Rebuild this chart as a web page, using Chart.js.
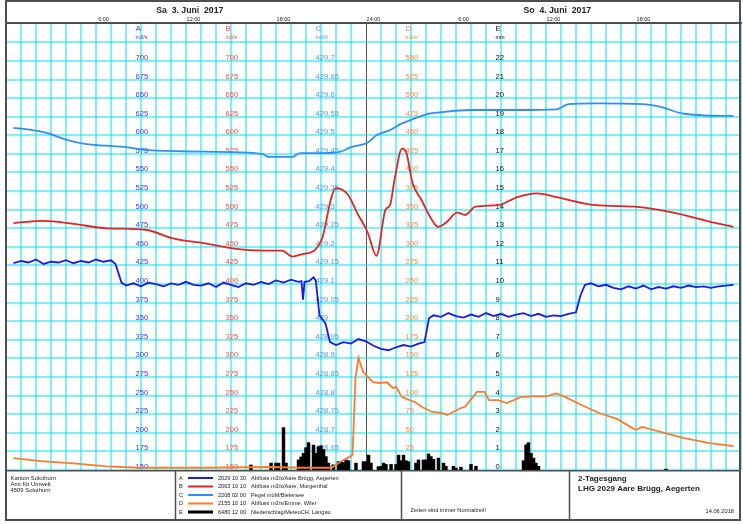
<!DOCTYPE html>
<html>
<head>
<meta charset="utf-8">
<script src="https://cdn.jsdelivr.net/npm/chart.js@4.4.1/dist/chart.umd.min.js"></script>
<style>
  html, body { margin: 0; padding: 0; background: #fff; }
  #wrap { width: 743px; height: 524px; }
</style>
</head>
<body>
<div id="wrap"><canvas id="chart" width="743" height="524"></canvas></div>
<script>
// --- Data (hours since Sa 3. Juni 2017 00:00) ---
const hourLabels = ['6:00', '12:00', '18:00', '24:00', '6:00', '12:00', '18:00'];
const dayLabels = ['Sa  3. Juni  2017', 'So  4. Juni  2017'];
const dayCenters = [12, 36];

const seriesLetters = ['A', 'B', 'C', 'D', 'E'];
const seriesCodes = ['2029 10 30', '2063 10 10', '2208 02 00', '2155 10 10', '6480 12 00'];
const seriesNames = [
  'Abfluss m3/s/Aare Brügg, Aegerten',
  'Abfluss m3/s/Aare, Murgenthal',
  'Pegel müM/Bielersee',
  'Abfluss m3/s/Emme, Wiler',
  'Niederschlag/MeteoCH, Langau'
];
const seriesUnits = ['m3/s', 'm3/s', 'müM', 'm3/s', 'mm'];

// A: Abfluss Aare Brügg (m3/s)
const aHours = [0, 0.5, 1, 1.5, 2, 2.5, 3, 3.5, 4, 4.5, 5, 5.5, 6, 6.5, 6.8, 7.2, 7.5, 8, 8.5, 9, 9.5, 10,
  10.5, 11, 11.5, 12, 12.5, 13, 13.5, 14, 14.5, 15, 15.5, 16, 16.5, 17, 17.5, 18, 18.5, 19, 19.2, 19.3,
  19.4, 19.7, 20, 20.15, 20.4, 20.8, 21.1, 21.5, 22, 22.5, 23, 23.5, 24, 24.5, 25, 25.5, 26, 26.5, 27,
  27.4, 27.7, 28, 28.5, 29, 29.5, 30, 30.5, 31, 31.5, 32, 32.5, 33, 33.5, 34, 34.5, 35, 35.5, 36, 36.5,
  37, 37.5, 37.8, 38.1, 38.5, 39, 39.5, 40, 40.5, 41, 41.5, 42, 42.5, 43, 43.5, 44, 44.5, 45, 45.5, 46,
  46.5, 47, 47.5, 48];
const aValues = [428, 431, 429, 433, 427, 430, 429, 432, 428, 431, 429, 433, 430, 432, 427, 402, 398, 401,
  397, 402, 400, 397, 401, 399, 403, 399, 398, 401, 396, 402, 399, 396, 401, 399, 403, 400, 405, 402, 406,
  403, 404, 379, 403, 404, 409, 405, 358, 347, 322, 318, 322, 320, 326, 323, 317, 313, 311, 315, 318, 316,
  320, 322, 354, 358, 356, 361, 357, 355, 359, 356, 361, 357, 360, 356, 359, 361, 357, 360, 356, 358, 357,
  360, 362, 385, 399, 401, 397, 399, 395, 393, 397, 394, 398, 393, 396, 394, 397, 395, 398, 396, 397, 395,
  397, 398, 399];

// B: Abfluss Aare Murgenthal (m3/s)
const bHours = [0, 2, 4, 6.2, 8.8, 10.7, 12.7, 14.6, 16.6, 17.9, 18.6, 19.2, 20.1, 20.6, 21.2, 21.5, 22.3,
  22.9, 23.6, 24.2, 24.8, 25.1, 25.4, 25.9, 26.2, 26.6, 27.2, 27.9, 28.3, 28.8, 29.6, 30.1, 30.8, 32.3,
  33.6, 34.9, 36.2, 38.8, 41.4, 44, 46.6, 48];
const bValues = [482, 485, 481, 475, 473, 461, 455, 448, 445, 445, 437, 440, 446, 463, 517, 529, 520, 496,
  470, 438, 500, 506, 540, 582, 576, 536, 513, 486, 477, 482, 496, 493, 504, 506, 517, 522, 517, 506, 504,
  496, 483, 477];

// C: Pegel Bielersee (müM)
const cHours = [0, 0.95, 2.25, 3.55, 4.86, 6.16, 7.47, 8.97, 12.7, 15.3, 16.7, 17, 18.6, 19.1, 19.7, 20.7,
  21.8, 22.5, 23.6, 24.2, 25.1, 25.9, 26.8, 27.7, 28.5, 29.4, 30.8, 33.6, 36.2, 37, 38.8, 42, 43, 44.7,
  47.9, 48];
const cValues = [429.52, 429.516, 429.506, 429.488, 429.476, 429.472, 429.468, 429.46, 429.456, 429.454,
  429.448, 429.442, 429.442, 429.452, 429.452, 429.452, 429.456, 429.468, 429.48, 429.5, 429.514, 429.532,
  429.546, 429.558, 429.562, 429.566, 429.568, 429.568, 429.57, 429.584, 429.586, 429.584, 429.578,
  429.558, 429.552, 429.552];

// D: Abfluss Emme Wiler (m3/s)
const dHours = [0, 1.8, 4, 6.2, 8.3, 12.7, 17.1, 19.2, 21.2, 21.8, 22.6, 22.8, 23, 23.3, 23.96, 24.4, 24.9,
  25.3, 25.5, 25.9, 26.8, 27.2, 27.9, 28.5, 28.9, 29.8, 30.1, 30.9, 31.4, 31.7, 32.3, 32.9, 33.8, 34.7,
  35.5, 36.2, 36.8, 37.9, 39, 40.3, 41.2, 41.5, 41.9, 43.2, 44.7, 46.4, 48];
const dValues = [16, 12, 9, 5, 3, 3, 4, 3, 3, 11, 20, 124, 151, 132, 118, 117, 118, 110, 112, 98, 91, 85,
  78, 77, 74, 83, 85, 105, 105, 94, 94, 90, 98, 99, 99, 103, 98, 87, 77, 68, 57, 54, 58, 51, 43, 36, 32];

// E: Niederschlag Langau (mm, 10-min sums)
const eHours = [15.83, 17.17, 17.5, 17.67, 18, 18.17, 19, 19.17, 19.33, 19.5, 19.67, 20, 20.17, 20.33, 20.5,
  20.67, 20.83, 21, 21.33, 21.67, 21.83, 22, 22.17, 22.33, 22.83, 23.33, 23.5, 23.67, 23.83, 24.33, 24.5,
  24.67, 24.83, 25.17, 25.5, 25.67, 25.83, 26, 26.17, 26.33, 26.83, 27, 27.33, 27.5, 27.67, 27.83, 28,
  28.33, 28.67, 28.83, 29.33, 29.5, 29.83, 30.5, 30.83, 34, 34.17, 34.33, 34.5, 34.67, 34.83, 35, 43.5];
const eValues = [0.27, 0.37, 0.37, 0.37, 2.28, 0.37, 0.54, 0.7, 0.9, 1.2, 1.47, 1.34, 0.9, 1.25, 1.3, 1.1,
  0.72, 0.37, 0.27, 0.45, 0.45, 0.4, 0.54, 0.5, 0.37, 0.45, 0.45, 0.8, 0.37, 0.18, 0.2, 0.37, 0.3, 0.3,
  0.3, 0.8, 0.5, 0.8, 0.5, 0.45, 0.37, 0.54, 0.54, 0.54, 0.86, 0.72, 0.57, 0.64, 0.37, 0.2, 0.2, 0.1,
  0.15, 0.3, 0.2, 0.5, 1.35, 1.47, 0.9, 0.64, 0.37, 0.2, 0.05];

// --- Style ---
const FONT = '"Liberation Sans", Arial, sans-serif';
const GRID = 'rgba(0, 226, 236, 0.5)';
const FRAME = '#4f4f4f';
const lineColors = ['#1a1aee', '#e62222', '#2e90f2', '#ff7a2a', '#000000'];
const labelColors = ['#3b3bf2', '#ff4c4c', '#4d9cf5', '#ff8748', '#111111'];

// label columns inside the plot: scale, hour of the column, top value, step
const axisColumns = [
  { scale: 'yA', hour: 8, top: 700, step: 25 },
  { scale: 'yB', hour: 14, top: 700, step: 25 },
  { scale: 'yC', hour: 20, top: 429.7, step: 0.05 },
  { scale: 'yD', hour: 26, top: 550, step: 25 },
  { scale: 'yE', hour: 32, top: 22, step: 1 }
];

const toPoints = (hours, values) => hours.map((h, i) => ({ x: h, y: values[i] }));

const columnLabels = {
  id: 'columnLabels',
  beforeDatasetsDraw(chart) {
    const { ctx, scales } = chart;
    ctx.save();
    ctx.textAlign = 'left';
    ctx.textBaseline = 'alphabetic';
    axisColumns.forEach((col, i) => {
      const scale = scales[col.scale];
      const x = scales.x.getPixelForValue(col.hour) + 2;
      ctx.fillStyle = labelColors[i];
      ctx.font = `7.7px ${FONT}`;
      scale.ticks.forEach(t => {
        if (t.value > col.top + col.step / 10) return;
        ctx.fillText(t.label, x, scale.getPixelForValue(t.value) - 1);
      });
      const yHead = scale.getPixelForValue(col.top + col.step);
      ctx.font = `8px ${FONT}`;
      ctx.fillText(seriesLetters[i], x, yHead - 11);
      ctx.font = `5.5px ${FONT}`;
      ctx.fillText(seriesUnits[i], x, yHead - 3.5);
    });
    ctx.restore();
  }
};

const footer = {
  id: 'footer',
  afterDraw(chart) {
    const ctx = chart.ctx;
    const line = (x1, y1, x2, y2) => { ctx.beginPath(); ctx.moveTo(x1, y1); ctx.lineTo(x2, y2); ctx.stroke(); };
    ctx.save();
    ctx.strokeStyle = FRAME;
    ctx.lineWidth = 1.5;
    line(5, 470.75, 741, 470.75);
    line(175.5, 470, 175.5, 520);
    line(401.5, 470, 401.5, 520);
    line(569.5, 470, 569.5, 520);
    ctx.lineWidth = 2;
    ctx.strokeRect(6, 1, 734, 519);

    ctx.fillStyle = '#222';
    ctx.textBaseline = 'middle';
    ctx.textAlign = 'left';
    ctx.font = `5.9px ${FONT}`;
    ['Kanton Solothurn', 'Amt für Umwelt', '4509 Solothurn'].forEach((t, i) => ctx.fillText(t, 10.5, 478.7 + i * 6));

    // legend
    chart.data.datasets.forEach((ds, i) => {
      const y = 478 + i * 8.5;
      ctx.fillStyle = '#222';
      ctx.font = `5.6px ${FONT}`;
      ctx.fillText(seriesLetters[i], 179, y);
      ctx.strokeStyle = lineColors[i];
      ctx.lineWidth = i === 4 ? 3 : 2;
      line(188, y, 213, y);
      ctx.fillText(seriesCodes[i], 218, y);
      ctx.fillText(ds.label, 251, y);
    });

    ctx.font = `5.7px ${FONT}`;
    ctx.fillText('Zeiten sind immer Normalzeit!', 410.5, 510.7);
    ctx.font = `bold 8px ${FONT}`;
    ctx.fillText('2-Tagesgang', 578, 479);
    ctx.fillText('LHG 2029 Aare Brügg, Aegerten', 578, 488.3);
    ctx.textAlign = 'right';
    ctx.font = `5.7px ${FONT}`;
    ctx.fillText('14.06.2018', 734, 511.7);
    ctx.restore();
  }
};

const lineSet = (i, hours, values, axis, extra) => Object.assign({
  type: 'line',
  label: seriesNames[i],
  data: toPoints(hours, values),
  yAxisID: axis,
  borderColor: lineColors[i],
  backgroundColor: lineColors[i],
  borderWidth: 1.8,
  pointRadius: 0,
  tension: 0,
  order: 1
}, extra || {});

const ctx = document.getElementById('chart').getContext('2d');
const chart = new Chart(ctx, {
  data: {
    datasets: [
      lineSet(0, aHours, aValues, 'yA'),
      lineSet(1, bHours, bValues, 'yB', { cubicInterpolationMode: 'monotone' }),
      lineSet(2, cHours, cValues, 'yC', { cubicInterpolationMode: 'monotone' }),
      lineSet(3, dHours, dValues, 'yD'),
      {
        type: 'bar',
        label: seriesNames[4],
        data: toPoints(eHours, eValues),
        yAxisID: 'yE',
        backgroundColor: '#000',
        borderWidth: 0,
        barThickness: 2.8,
        order: 5
      }
    ]
  },
  options: {
    responsive: false,
    animation: false,
    layout: { padding: { left: 6, right: 2, top: 0, bottom: 54 } },
    plugins: { legend: { display: false }, tooltip: { enabled: false } },
    scales: {
      x: {
        type: 'linear', position: 'top', min: 0, max: 48, weight: 0,
        afterFit: s => { s.height = 8; },
        ticks: {
          stepSize: 1, autoSkip: false, maxRotation: 0, padding: 0, color: '#222',
          font: { family: FONT, size: 5.5 },
          callback: v => (v % 6 === 0 && v > 0 && v < 48) ? hourLabels[v / 6 - 1] : ''
        },
        grid: {
          drawTicks: false,
          color: c => c.tick && c.tick.value === 24 ? '#555' : GRID,
          lineWidth: c => c.tick && c.tick.value === 24 ? 1 : 2
        },
        border: { display: true, color: FRAME, width: 2 }
      },
      xDay: {
        type: 'linear', position: 'top', min: 0, max: 48, weight: 1,
        afterFit: s => { s.height = 15; },
        afterBuildTicks: s => { s.ticks = dayCenters.map(v => ({ value: v })); },
        ticks: {
          autoSkip: false, maxRotation: 0, padding: -1, color: '#222',
          font: { family: FONT, size: 8.7, weight: 'bold' },
          callback: (v, i) => dayLabels[i]
        },
        grid: { display: false, drawTicks: false },
        border: { display: false }
      },
      yA: {
        type: 'linear', position: 'left', min: 150, max: 751,
        afterBuildTicks: s => { s.ticks = s.ticks.filter(t => t.value <= 725); },
        ticks: { stepSize: 25, display: false },
        grid: { color: GRID, lineWidth: 2, drawTicks: false },
        border: { display: false }
      },
      yB: { type: 'linear', display: false, min: 150, max: 751, ticks: { stepSize: 25 } },
      yC: {
        type: 'linear', display: false, min: 428.6, max: 429.802,
        ticks: { stepSize: 0.05, callback: v => String(Math.round(v * 100) / 100) }
      },
      yD: { type: 'linear', display: false, min: 0, max: 601, ticks: { stepSize: 25 } },
      yE: { type: 'linear', display: false, min: 0, max: 24.04, ticks: { stepSize: 1 } }
    }
  },
  plugins: [columnLabels, footer]
});
</script>
</body>
</html>
